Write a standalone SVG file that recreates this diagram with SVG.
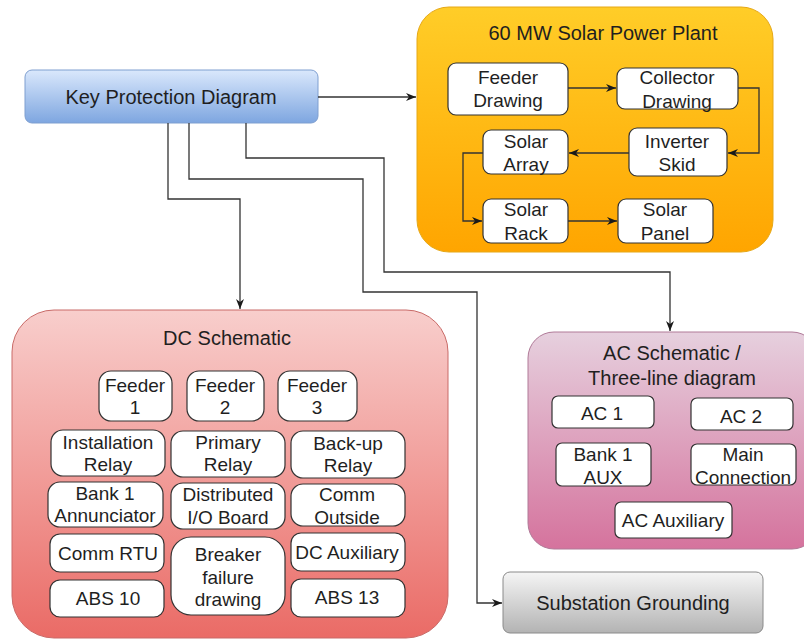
<svg xmlns="http://www.w3.org/2000/svg" width="804" height="639" viewBox="0 0 804 639">
<defs>
<linearGradient id="gBlue" x1="0" y1="0" x2="0" y2="1"><stop offset="0" stop-color="#dae8fc"/><stop offset="1" stop-color="#7ea6e0"/></linearGradient>
<linearGradient id="gOrange" x1="0" y1="0" x2="0" y2="1"><stop offset="0" stop-color="#ffcd28"/><stop offset="1" stop-color="#ffa500"/></linearGradient>
<linearGradient id="gRed" x1="0" y1="0" x2="0" y2="1"><stop offset="0" stop-color="#f8cecc"/><stop offset="1" stop-color="#ea6b66"/></linearGradient>
<linearGradient id="gPink" x1="0" y1="0" x2="0" y2="1"><stop offset="0" stop-color="#e6d0de"/><stop offset="1" stop-color="#d5739d"/></linearGradient>
<linearGradient id="gGray" x1="0" y1="0" x2="0" y2="1"><stop offset="0" stop-color="#f5f5f5"/><stop offset="1" stop-color="#b3b3b3"/></linearGradient>
<marker id="arr" viewBox="0 0 10 10" refX="10" refY="5" markerWidth="10" markerHeight="10" markerUnits="userSpaceOnUse" orient="auto">
<path d="M0,1 L10,5 L0,9 L3,5 Z" fill="#1a1a1a"/>
</marker>
<style>
text{font-family:"Liberation Sans",Arial,sans-serif;fill:#1f1f1f;text-anchor:middle}
.t{font-size:20px}
.s{font-size:19px}
.inner{fill:#ffffff;stroke:#333333;stroke-width:1.2}
.conn{fill:none;stroke:#333333;stroke-width:1.3;marker-end:url(#arr)}
</style>
</defs>

<g id="solar-plant">
<rect x="417" y="7" width="356" height="245" rx="32" fill="url(#gOrange)" stroke="#e6a817" stroke-width="1"/>
<text class="t" x="603" y="40">60 MW Solar Power Plant</text>
</g>
<g id="dc-schematic">
<rect x="12" y="310" width="436" height="328" rx="42" fill="url(#gRed)" stroke="#c96b68" stroke-width="1"/>
<text class="t" x="227" y="345">DC Schematic</text>
</g>
<g id="ac-schematic">
<rect x="528" y="332" width="290" height="217" rx="26" fill="url(#gPink)" stroke="#b07a98" stroke-width="1"/>
<text class="t" x="672" y="360">AC Schematic /</text>
<text class="t" x="672" y="385">Three-line diagram</text>
</g>

<g id="key-protection">
<rect x="25" y="70" width="293" height="53" rx="7" fill="url(#gBlue)" stroke="#7f9fd0" stroke-width="1"/>
<text class="t" x="171" y="104">Key Protection Diagram</text>
</g>
<g id="substation-grounding">
<rect x="503" y="572" width="260" height="61" rx="7" fill="url(#gGray)" stroke="#8a8a8a" stroke-width="1"/>
<text class="t" x="633" y="610">Substation Grounding</text>
</g>

<g id="feeder-drawing"><rect class="inner" x="448" y="63" width="120" height="52" rx="8"/><text class="s" x="508" y="84">Feeder</text><text class="s" x="508" y="107">Drawing</text></g>
<g id="collector-drawing"><rect class="inner" x="617" y="68" width="121" height="41" rx="8"/><text class="s" x="677" y="84">Collector</text><text class="s" x="677" y="108">Drawing</text></g>
<g id="inverter-skid"><rect class="inner" x="629" y="128" width="98" height="48" rx="8"/><text class="s" x="677" y="148">Inverter</text><text class="s" x="677" y="171">Skid</text></g>
<g id="solar-array"><rect class="inner" x="483" y="130" width="85" height="44" rx="8"/><text class="s" x="526" y="148">Solar</text><text class="s" x="526" y="171">Array</text></g>
<g id="solar-rack"><rect class="inner" x="483" y="199" width="85" height="44" rx="8"/><text class="s" x="526" y="216">Solar</text><text class="s" x="526" y="240">Rack</text></g>
<g id="solar-panel"><rect class="inner" x="618" y="199" width="95" height="44" rx="8"/><text class="s" x="665" y="216">Solar</text><text class="s" x="665" y="240">Panel</text></g>

<g id="feeder-1"><rect class="inner" x="99" y="371" width="73" height="50" rx="12"/><text class="s" x="135" y="392">Feeder</text><text class="s" x="135" y="414">1</text></g>
<g id="feeder-2"><rect class="inner" x="187" y="371" width="77" height="50" rx="12"/><text class="s" x="225" y="392">Feeder</text><text class="s" x="225" y="414">2</text></g>
<g id="feeder-3"><rect class="inner" x="278" y="371" width="79" height="50" rx="12"/><text class="s" x="317" y="392">Feeder</text><text class="s" x="317" y="414">3</text></g>
<g id="installation-relay"><rect class="inner" x="51" y="430" width="114" height="46" rx="12"/><text class="s" x="108" y="449">Installation</text><text class="s" x="108" y="471">Relay</text></g>
<g id="primary-relay"><rect class="inner" x="171" y="431" width="114" height="46" rx="12"/><text class="s" x="228" y="449">Primary</text><text class="s" x="228" y="471">Relay</text></g>
<g id="backup-relay"><rect class="inner" x="291" y="431" width="114" height="47" rx="12"/><text class="s" x="348" y="450">Back-up</text><text class="s" x="348" y="472">Relay</text></g>
<g id="bank1-annunciator"><rect class="inner" x="48" y="482" width="115" height="45" rx="12"/><text class="s" x="105" y="500">Bank 1</text><text class="s" x="105" y="522">Annunciator</text></g>
<g id="distributed-io"><rect class="inner" x="171" y="483" width="114" height="46" rx="12"/><text class="s" x="228" y="501">Distributed</text><text class="s" x="228" y="524">I/O Board</text></g>
<g id="comm-outside"><rect class="inner" x="291" y="484" width="114" height="42" rx="12"/><text class="s" x="347" y="501">Comm</text><text class="s" x="347" y="524">Outside</text></g>
<g id="comm-rtu"><rect class="inner" x="50" y="534" width="114" height="38" rx="10"/><text class="s" x="108" y="560">Comm RTU</text></g>
<g id="breaker-failure"><rect class="inner" x="171" y="537" width="114" height="78" rx="20"/><text class="s" x="228" y="561">Breaker</text><text class="s" x="228" y="584">failure</text><text class="s" x="228" y="606">drawing</text></g>
<g id="dc-auxiliary"><rect class="inner" x="291" y="533" width="114" height="38" rx="10"/><text class="s" x="347" y="559">DC Auxiliary</text></g>
<g id="abs-10"><rect class="inner" x="50" y="580" width="114" height="37" rx="10"/><text class="s" x="108" y="605">ABS 10</text></g>
<g id="abs-13"><rect class="inner" x="291" y="579" width="114" height="38" rx="10"/><text class="s" x="347" y="604">ABS 13</text></g>

<g id="ac-1"><rect class="inner" x="552" y="396" width="102" height="32" rx="6"/><text class="s" x="602" y="420">AC 1</text></g>
<g id="ac-2"><rect class="inner" x="691" y="398" width="102" height="32" rx="6"/><text class="s" x="741" y="423">AC 2</text></g>
<g id="bank1-aux"><rect class="inner" x="556" y="443" width="95" height="43" rx="6"/><text class="s" x="603" y="461">Bank 1</text><text class="s" x="603" y="484">AUX</text></g>
<g id="main-connection"><rect class="inner" x="691" y="444" width="105" height="41" rx="6"/><text class="s" x="743" y="461">Main</text><text class="s" x="743" y="484">Connection</text></g>
<g id="ac-auxiliary"><rect class="inner" x="615" y="502" width="117" height="36" rx="6"/><text class="s" x="673" y="527">AC Auxiliary</text></g>

<g id="connectors">
<path class="conn" d="M318,97 L416,97"/>
<path class="conn" d="M168,123 L168,199 L240,199 L240,309"/>
<path class="conn" d="M189,123 L189,179 L363,179 L363,292 L477,292 L477,603 L502,603"/>
<path class="conn" d="M246,123 L246,158 L384,158 L384,272 L670,272 L670,331"/>
<path class="conn" d="M568,88 L616,88"/>
<path class="conn" d="M738,88 L759,88 L759,153 L728,153"/>
<path class="conn" d="M629,153 L569,153"/>
<path class="conn" d="M483,153 L463,153 L463,221 L482,221"/>
<path class="conn" d="M568,221 L617,221"/>
</g>
</svg>
